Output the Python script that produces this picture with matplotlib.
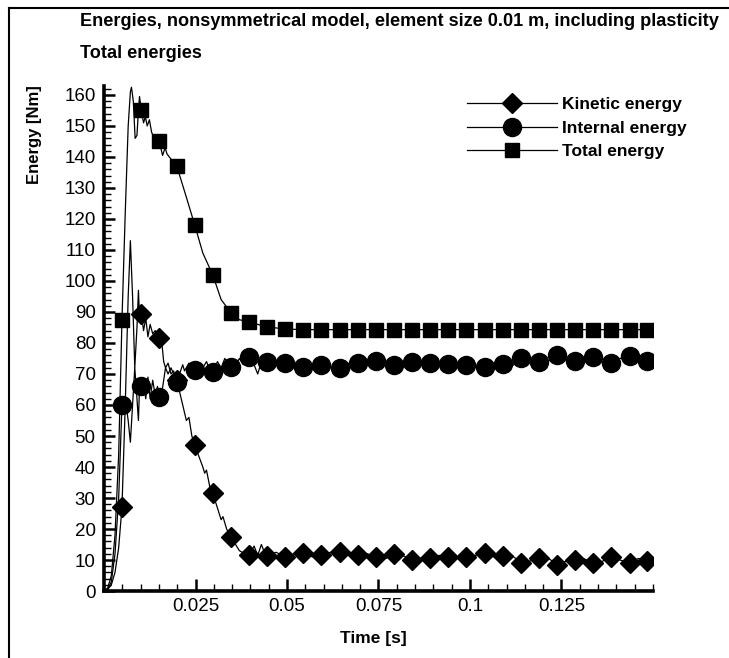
import numpy as np
import matplotlib
matplotlib.use("Agg")
import matplotlib.pyplot as plt
from matplotlib.lines import Line2D
from matplotlib.ticker import MultipleLocator, FixedLocator, FixedFormatter

plt.rcParams['font.family'] = ['Liberation Sans', 'DejaVu Sans']

# Sample times of the plotted markers [s]
t_marker = [0.0049, 0.0102, 0.0151, 0.0199, 0.0248, 0.0297, 0.0347, 0.0396,
            0.0446, 0.0495, 0.0545, 0.0594, 0.0644, 0.0693, 0.0743, 0.0792,
            0.0842, 0.0891, 0.0941, 0.0990, 0.1040, 0.1089, 0.1139, 0.1188,
            0.1238, 0.1287, 0.1337, 0.1386, 0.1436, 0.1485]

# Energies at the marker times [Nm]
kinetic = [27.0, 89.5, 81.5, 68.0, 47.0, 31.6, 17.4, 11.6, 11.3, 11.0,
           12.2, 11.6, 12.7, 11.6, 11.0, 11.9, 10.0, 10.6, 11.0, 11.0,
           12.2, 11.3, 9.0, 10.6, 8.4, 10.0, 9.0, 11.0, 9.0, 9.8]
internal = [60.0, 66.0, 62.6, 67.5, 71.3, 70.6, 72.4, 75.5, 74.0, 73.4,
            72.4, 72.9, 71.8, 73.4, 74.3, 72.9, 74.0, 73.7, 73.1, 72.9,
            72.1, 73.1, 75.0, 74.0, 76.1, 74.3, 75.4, 73.4, 75.8, 74.3]
total = [87.4, 155.0, 145.0, 137.0, 118.0, 102.0, 89.7, 86.8, 85.2, 84.5,
         84.3, 84.3, 84.3, 84.3, 84.3, 84.3, 84.3, 84.3, 84.3, 84.3,
         84.3, 84.3, 84.3, 84.3, 84.3, 84.3, 84.3, 84.3, 84.3, 84.3]

# Additional time history samples between the markers
t_kin_extra = [0.0, 0.001, 0.002, 0.003, 0.004, 0.0058, 0.0066, 0.0072, 0.0078,
               0.0084, 0.009, 0.0094, 0.0097, 0.0108, 0.0114, 0.012, 0.0126,
               0.0133, 0.014, 0.0146, 0.0158, 0.0163, 0.0168, 0.0175, 0.0183,
               0.019, 0.0215, 0.0225, 0.0232, 0.024, 0.027, 0.0275, 0.028,
               0.029, 0.032, 0.0325, 0.0335, 0.037, 0.0385, 0.041, 0.042,
               0.043, 0.044, 0.047, 0.052, 0.057, 0.062, 0.067, 0.072, 0.077,
               0.0815, 0.0865, 0.0915, 0.0965, 0.1015, 0.1065, 0.1115, 0.116,
               0.121, 0.126, 0.131, 0.136, 0.141, 0.146, 0.149]
kin_extra = [0.0, 0.5, 2.0, 6.0, 14.0, 60.0, 95.0, 113.0, 95.0,
             72.0, 85.0, 97.0, 88.0, 84.0, 88.0, 82.0, 86.0,
             83.0, 84.0, 82.0, 80.0, 74.0, 72.0, 73.5, 70.0,
             71.0, 60.0, 55.0, 56.0, 50.0, 40.0, 38.0, 39.0,
             33.0, 23.0, 24.0, 20.0, 13.0, 12.0, 14.5, 11.5,
             15.0, 12.0, 12.5, 12.0, 11.0, 12.5, 11.5, 12.0, 10.5,
             11.5, 10.5, 11.5, 10.5, 11.5, 11.0, 11.5, 9.5,
             11.0, 9.5, 10.5, 9.5, 10.0, 10.5, 11.0]

t_int_extra = [0.0, 0.001, 0.002, 0.003, 0.004, 0.0058, 0.0066, 0.0072, 0.0078,
               0.0084, 0.009, 0.0094, 0.0097, 0.0108, 0.0114, 0.012, 0.0126,
               0.0133, 0.014, 0.0146, 0.0158, 0.0163, 0.0168, 0.0175, 0.0183,
               0.019, 0.0215, 0.022, 0.0232, 0.024, 0.026, 0.027, 0.028, 0.029,
               0.031, 0.032, 0.033, 0.036, 0.037, 0.038, 0.041, 0.042, 0.043,
               0.044, 0.046, 0.048, 0.052, 0.057, 0.062, 0.067, 0.072, 0.077,
               0.0815, 0.0865, 0.0915, 0.0965, 0.1015, 0.1065, 0.111, 0.1165,
               0.121, 0.126, 0.131, 0.136, 0.141, 0.146, 0.149]
int_extra = [0.0, 0.5, 3.0, 12.0, 30.0, 62.0, 55.0, 48.0, 60.0,
             72.0, 62.0, 55.0, 66.0, 67.0, 62.0, 69.0, 62.0,
             68.0, 63.0, 66.0, 64.0, 68.0, 72.0, 70.0, 72.0,
             70.0, 73.0, 71.0, 73.5, 70.5, 73.0, 72.0, 74.0, 71.0,
             74.0, 72.0, 75.0, 73.0, 75.0, 73.0, 73.0, 70.0, 74.0,
             72.0, 72.0, 74.0, 72.5, 72.8, 72.0, 73.5, 74.0, 73.5,
             73.0, 73.5, 73.5, 72.0, 72.5, 73.5, 72.0, 74.5,
             74.0, 75.0, 74.5, 74.0, 75.0, 74.0, 73.0]

t_tot_extra = [0.0, 0.001, 0.002, 0.003, 0.004, 0.0058, 0.0066, 0.0072, 0.0075,
               0.008, 0.0085, 0.009, 0.0094, 0.0097, 0.0108, 0.0113, 0.0118,
               0.0124, 0.013, 0.0137, 0.0144, 0.0157, 0.016, 0.0167, 0.0172,
               0.0185, 0.0225, 0.027, 0.032, 0.037, 0.042, 0.149]
tot_extra = [0.0, 1.0, 5.0, 18.0, 44.0, 122.0, 150.0, 161.0, 162.5,
             158.0, 146.0, 147.0, 155.0, 159.5, 151.0, 153.0, 150.0,
             152.0, 148.0, 146.0, 146.0, 142.0, 140.5, 143.0, 141.0,
             139.0, 127.0, 109.0, 94.0, 87.5, 86.0, 84.3]

x_ticks = [0.025, 0.05, 0.075, 0.1, 0.125]
x_ticklabels = ["0.025", "0.05", "0.075", "0.1", "0.125"]
y_ticks = list(range(0, 161, 10))


def history(t_m, v_m, t_x, v_x):
    t = np.concatenate([t_m, t_x])
    v = np.concatenate([v_m, v_x])
    order = np.argsort(t, kind="stable")
    return t[order], v[order]


fig = plt.figure(figsize=(7.29, 6.58), dpi=100)
ax = fig.add_axes([0.1427, 0.1018, 0.7530, 0.7680])

series = [
    ("Kinetic energy", kinetic, t_kin_extra, kin_extra, "D", 9.8),
    ("Internal energy", internal, t_int_extra, int_extra, "o", 13.0),
    ("Total energy", total, t_tot_extra, tot_extra, "s", 9.5),
]
handles = []
for label, vals, tx, vx, mk, ms in series:
    t, v = history(t_marker, vals, tx, vx)
    ax.plot(t, v, color="black", lw=0.9, zorder=2)
    ax.plot(t_marker, vals, linestyle="none", marker=mk, ms=ms,
            color="black", zorder=3)
    handles.append(Line2D([], [], color="black", lw=0.9, marker=mk, ms=ms,
                          label=label))

ax.set_xlim(0, 0.15)
ax.set_ylim(0, 163)

for side in ("top", "right"):
    ax.spines[side].set_visible(False)
for side in ("left", "bottom"):
    ax.spines[side].set_linewidth(2.6)

ax.xaxis.set_major_locator(FixedLocator(x_ticks))
ax.xaxis.set_major_formatter(FixedFormatter(x_ticklabels))
ax.xaxis.set_minor_locator(MultipleLocator(0.005))
ax.yaxis.set_major_locator(FixedLocator(y_ticks))
ax.yaxis.set_minor_locator(MultipleLocator(2))

ax.tick_params(axis="x", which="major", direction="in", length=9, width=1.8,
               pad=5, labelsize=13.5)
ax.tick_params(axis="x", which="minor", direction="in", length=5, width=1.0)
ax.tick_params(axis="y", which="major", direction="in", length=8, width=1.8,
               pad=6, labelsize=13.5)
ax.tick_params(axis="y", which="minor", direction="in", length=5, width=1.0)

leg = ax.legend(handles=handles, loc="upper left",
                bbox_to_anchor=(0.648, 0.992), frameon=False,
                handlelength=5.2, handletextpad=0.3, labelspacing=0.5,
                borderaxespad=0.0,
                prop={"weight": "bold", "size": 12.5})

fig.text(80 / 729, 1 - 22 / 658, "Energies, nonsymmetrical model, element size 0.01 m, including plasticity",
         fontsize=13.1, fontweight="bold", ha="left", va="center")
fig.text(80 / 729, 1 - 53 / 658, "Total energies",
         fontsize=13.1, fontweight="bold", ha="left", va="center")
fig.text(34 / 729, 1 - 135 / 658, "Energy [Nm]", rotation=90,
         fontsize=12, fontweight="bold", ha="center", va="center")
fig.text(373 / 729, 1 - 638 / 658, "Time [s]",
         fontsize=12.5, fontweight="bold", ha="center", va="center")

# page frame on the left and top
fig.add_artist(Line2D([9 / 729, 9 / 729], [0, 1 - 8 / 658],
                      transform=fig.transFigure, color="black", lw=1.5))
fig.add_artist(Line2D([9 / 729, 1], [1 - 8 / 658, 1 - 8 / 658],
                      transform=fig.transFigure, color="black", lw=1.5))

fig.savefig("out.png", dpi=100, facecolor="white")
